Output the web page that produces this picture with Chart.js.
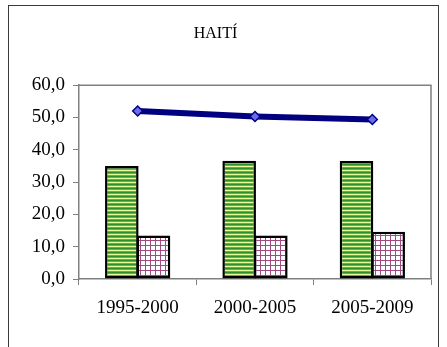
<!DOCTYPE html>
<html>
<head>
<meta charset="utf-8">
<script src="https://cdn.jsdelivr.net/npm/chart.js@4"></script>
<style>
  html, body { margin: 0; padding: 0; background: #fff; overflow: hidden; }
  #wrap { position: relative; width: 447px; height: 347px; }
  #frame { position: absolute; left: 8px; top: 5px; width: 431px; height: 360px; border: 1.5px solid #3a3a3a; box-sizing: border-box; }
  canvas { position: absolute; left: 0; top: 0; }
</style>
</head>
<body>
<div id="wrap">
  <div id="frame"></div>
  <canvas id="myChart" width="447" height="347"></canvas>
</div>
<script>
const periods = ['1995-2000', '2000-2005', '2005-2009']
const lineValues = [52.0, 50.3, 49.4]
const greenValues = [35.0, 36.6, 36.5]
const purpleValues = [13.5, 13.5, 14.6]
const yTicks = [0, 10, 20, 30, 40, 50, 60]

// hatch fills like the old excel patterns
function stripePattern() {
  var c = document.createElement('canvas')
  c.width = 4; c.height = 4
  var g = c.getContext('2d')
  g.fillStyle = '#2f8f2f'; g.fillRect(0, 0, 4, 4)
  g.fillStyle = '#5cb83c'; g.fillRect(0, 1, 4, 1)
  g.fillStyle = '#e8ff9a'; g.fillRect(0, 2, 4, 1)
  g.fillStyle = '#5cb83c'; g.fillRect(0, 3, 4, 1)
  return g.createPattern(c, 'repeat')
}

function gridPattern() {
  var c = document.createElement('canvas')
  c.width = 5; c.height = 5
  var g = c.getContext('2d')
  g.fillStyle = '#ffffff'; g.fillRect(0, 0, 5, 5)
  g.fillStyle = '#a04a80'
  g.fillRect(0, 0, 5, 1)
  g.fillRect(0, 0, 1, 5)
  return g.createPattern(c, 'repeat')
}

const plotBorder = {
  id: 'plotBorder',
  afterDraw(chart) {
    var a = chart.chartArea, ctx = chart.ctx
    ctx.save()
    ctx.strokeStyle = '#808080'
    ctx.lineWidth = 1.5
    ctx.beginPath()
    ctx.moveTo(a.left, a.top)
    ctx.lineTo(a.right, a.top)
    ctx.lineTo(a.right, a.bottom)
    ctx.stroke()
    ctx.restore()
  }
}

var serif = "'Liberation Serif', 'Times New Roman', serif"
var ctx = document.getElementById('myChart').getContext('2d')
var chart = new Chart(ctx, {
  type: 'bar',
  data: {
    labels: periods,
    datasets: [{
      type: 'line',
      data: lineValues,
      order: 0,
      borderColor: '#000080',
      borderWidth: 6,
      pointStyle: 'rectRot',
      pointRadius: 5,
      pointBackgroundColor: '#6b6bf0',
      pointBorderColor: '#000080',
      pointBorderWidth: 1.5,
      tension: 0
    }, {
      data: greenValues,
      order: 1,
      backgroundColor: stripePattern(),
      borderColor: '#000000',
      borderWidth: 2.5,
      borderSkipped: false,
      categoryPercentage: 0.54,
      barPercentage: 1.06
    }, {
      data: purpleValues,
      order: 2,
      backgroundColor: gridPattern(),
      borderColor: '#000000',
      borderWidth: 2.5,
      borderSkipped: false,
      categoryPercentage: 0.54,
      barPercentage: 1.06
    }]
  },
  options: {
    responsive: false,
    animation: false,
    layout: { padding: { left: 0, right: 16, top: 0, bottom: 0 } },
    plugins: {
      legend: { display: false },
      tooltip: { enabled: false },
      title: {
        display: true,
        text: 'HAITÍ',
        color: '#000',
        font: { family: serif, size: 16, weight: 'normal' },
        padding: { top: 24, bottom: 42 }
      }
    },
    scales: {
      x: {
        afterFit: function (s) { s.height = 68 },
        grid: { offset: true, drawOnChartArea: false, tickLength: 6, color: '#808080', tickColor: '#808080' },
        border: { color: '#808080', width: 1.5 },
        ticks: { color: '#000', padding: 12, font: { family: serif, size: 19 } }
      },
      y: {
        min: 0,
        max: 60,
        afterFit: function (s) { s.width = 79 },
        afterBuildTicks: function (s) { s.ticks = yTicks.map(function (v) { return { value: v } }) },
        grid: { drawOnChartArea: false, tickLength: 6, color: '#808080', tickColor: '#808080' },
        border: { color: '#808080', width: 1.5 },
        ticks: {
          color: '#000',
          padding: 8,
          font: { family: serif, size: 19 },
          callback: function (v) { return v.toFixed(1).replace('.', ',') }
        }
      }
    }
  },
  plugins: [plotBorder]
})
</script>
</body>
</html>
